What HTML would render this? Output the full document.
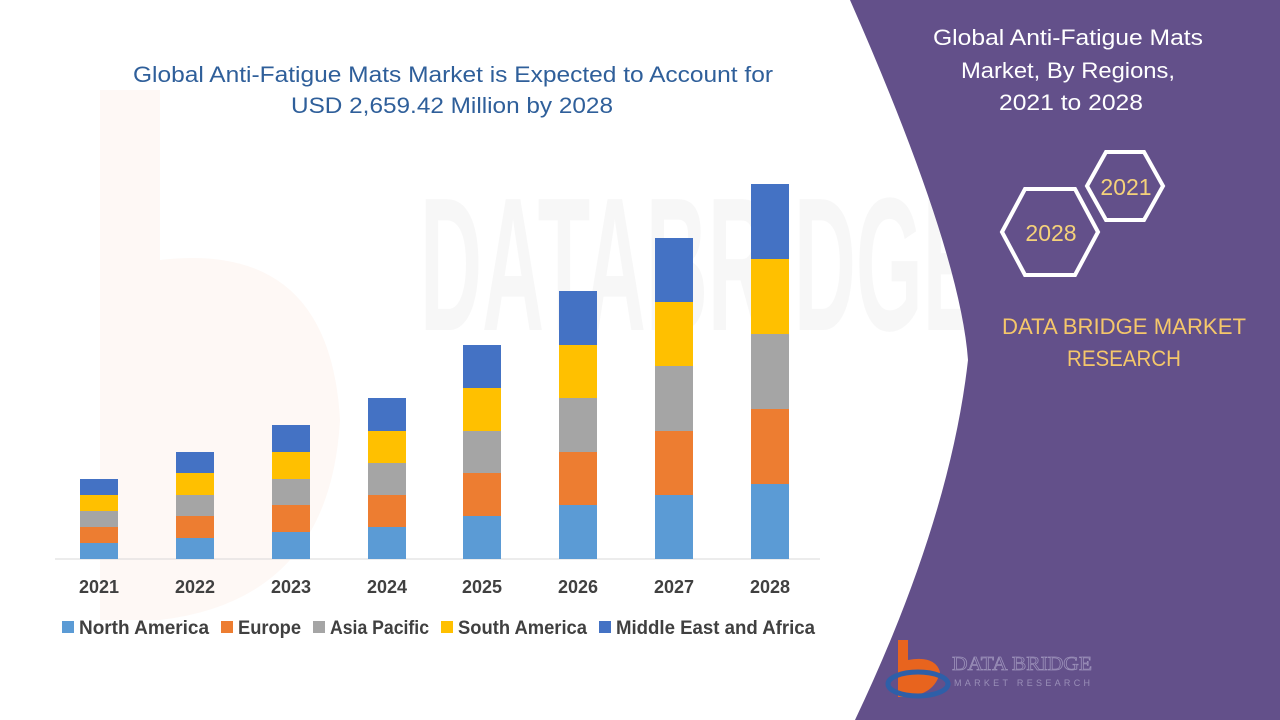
<!DOCTYPE html>
<html><head><meta charset="utf-8"><style>
html,body{margin:0;padding:0;background:#fff}
svg{display:block}
</style></head><body>
<svg width="1280" height="720" viewBox="0 0 1280 720" xmlns="http://www.w3.org/2000/svg" font-family="'Liberation Sans', sans-serif">
<rect width="1280" height="720" fill="#fff"/>
<g opacity="0.045">
<path d="M100 90 L160 90 L160 260 Q330 240 340 420 Q330 600 160 620 L100 620 Z" fill="#e8641e"/>
<text x="420" y="330" font-size="190" fill="#555" font-weight="bold" textLength="560" lengthAdjust="spacingAndGlyphs">DATABRIDGE</text>
</g>
<path d="M850 0 L1280 0 L1280 720 L855 720 Q950 520 968 360 Q960 250 850 0 Z" fill="#63508a"/>
<text x="453" y="82" font-size="22" fill="#2f5f9a" text-anchor="middle" textLength="640" lengthAdjust="spacingAndGlyphs">Global Anti-Fatigue Mats Market is Expected to Account for</text>
<text x="452" y="113" font-size="22" fill="#2f5f9a" text-anchor="middle" textLength="322" lengthAdjust="spacingAndGlyphs">USD 2,659.42 Million by 2028</text>
<line x1="55" y1="559" x2="820" y2="559" stroke="#d9d9d9" stroke-width="1"/>
<g font-family="'Liberation Sans Narrow','Liberation Sans',sans-serif" font-weight="bold" font-size="18" fill="#404040" text-anchor="middle">
<text x="99" y="593">2021</text><text x="195" y="593">2022</text><text x="291" y="593">2023</text><text x="387" y="593">2024</text>
<text x="482" y="593">2025</text><text x="578" y="593">2026</text><text x="674" y="593">2027</text><text x="770" y="593">2028</text>
</g>
<g font-family="'Liberation Sans Narrow','Liberation Sans',sans-serif" font-weight="bold" font-size="19" fill="#404040">
<rect x="62" y="621" width="12" height="12" fill="#5b9bd5"/><text x="79" y="634" textLength="130" lengthAdjust="spacingAndGlyphs">North America</text>
<rect x="221" y="621" width="12" height="12" fill="#ed7d31"/><text x="238" y="634" textLength="63" lengthAdjust="spacingAndGlyphs">Europe</text>
<rect x="313" y="621" width="12" height="12" fill="#a5a5a5"/><text x="330" y="634" textLength="99" lengthAdjust="spacingAndGlyphs">Asia Pacific</text>
<rect x="441" y="621" width="12" height="12" fill="#ffc000"/><text x="458" y="634" textLength="129" lengthAdjust="spacingAndGlyphs">South America</text>
<rect x="599" y="621" width="12" height="12" fill="#4472c4"/><text x="616" y="634" textLength="199" lengthAdjust="spacingAndGlyphs">Middle East and Africa</text>
</g>
<g>
<rect x="80" y="543" width="38" height="16" fill="#5b9bd5"/><rect x="80" y="527" width="38" height="16" fill="#ed7d31"/><rect x="80" y="511" width="38" height="16" fill="#a5a5a5"/><rect x="80" y="495" width="38" height="16" fill="#ffc000"/><rect x="80" y="479" width="38" height="16" fill="#4472c4"/>
<rect x="176" y="538" width="38" height="21" fill="#5b9bd5"/><rect x="176" y="516" width="38" height="22" fill="#ed7d31"/><rect x="176" y="495" width="38" height="21" fill="#a5a5a5"/><rect x="176" y="473" width="38" height="22" fill="#ffc000"/><rect x="176" y="452" width="38" height="21" fill="#4472c4"/>
<rect x="272" y="532" width="38" height="27" fill="#5b9bd5"/><rect x="272" y="505" width="38" height="27" fill="#ed7d31"/><rect x="272" y="479" width="38" height="26" fill="#a5a5a5"/><rect x="272" y="452" width="38" height="27" fill="#ffc000"/><rect x="272" y="425" width="38" height="27" fill="#4472c4"/>
<rect x="368" y="527" width="38" height="32" fill="#5b9bd5"/><rect x="368" y="495" width="38" height="32" fill="#ed7d31"/><rect x="368" y="463" width="38" height="32" fill="#a5a5a5"/><rect x="368" y="431" width="38" height="32" fill="#ffc000"/><rect x="368" y="398" width="38" height="33" fill="#4472c4"/>
<rect x="463" y="516" width="38" height="43" fill="#5b9bd5"/><rect x="463" y="473" width="38" height="43" fill="#ed7d31"/><rect x="463" y="431" width="38" height="42" fill="#a5a5a5"/><rect x="463" y="388" width="38" height="43" fill="#ffc000"/><rect x="463" y="345" width="38" height="43" fill="#4472c4"/>
<rect x="559" y="505" width="38" height="54" fill="#5b9bd5"/><rect x="559" y="452" width="38" height="53" fill="#ed7d31"/><rect x="559" y="398" width="38" height="54" fill="#a5a5a5"/><rect x="559" y="345" width="38" height="53" fill="#ffc000"/><rect x="559" y="291" width="38" height="54" fill="#4472c4"/>
<rect x="655" y="495" width="38" height="64" fill="#5b9bd5"/><rect x="655" y="431" width="38" height="64" fill="#ed7d31"/><rect x="655" y="366" width="38" height="65" fill="#a5a5a5"/><rect x="655" y="302" width="38" height="64" fill="#ffc000"/><rect x="655" y="238" width="38" height="64" fill="#4472c4"/>
<rect x="751" y="484" width="38" height="75" fill="#5b9bd5"/><rect x="751" y="409" width="38" height="75" fill="#ed7d31"/><rect x="751" y="334" width="38" height="75" fill="#a5a5a5"/><rect x="751" y="259" width="38" height="75" fill="#ffc000"/><rect x="751" y="184" width="38" height="75" fill="#4472c4"/>
</g>
<g fill="#fff" font-size="22" text-anchor="middle">
<text x="1068" y="45" textLength="270" lengthAdjust="spacingAndGlyphs">Global Anti-Fatigue Mats</text>
<text x="1068" y="78" textLength="214" lengthAdjust="spacingAndGlyphs">Market, By Regions,</text>
<text x="1071" y="110" textLength="144" lengthAdjust="spacingAndGlyphs">2021 to 2028</text>
</g>
<polygon points="1087,186 1106,152 1144,152 1163,186 1144,220 1106,220" fill="none" stroke="#fff" stroke-width="4"/>
<polygon points="1002,232 1025,189 1075,189 1098,232 1075,275 1025,275" fill="none" stroke="#fff" stroke-width="4"/>
<text x="1126" y="195" font-size="23" fill="#f5d27a" text-anchor="middle">2021</text>
<text x="1051" y="241" font-size="23" fill="#f5d27a" text-anchor="middle">2028</text>
<text x="1124" y="334" font-size="22" fill="#f5c76a" text-anchor="middle" textLength="244" lengthAdjust="spacingAndGlyphs">DATA BRIDGE MARKET</text>
<text x="1124" y="366" font-size="22" fill="#f5c76a" text-anchor="middle" textLength="114" lengthAdjust="spacingAndGlyphs">RESEARCH</text>
<path d="M898 640 L908 640 L908 660 Q935 655 940 672 Q935 695 905 697 L898 697 Z" fill="#e8641e"/>
<ellipse cx="918" cy="684" rx="30" ry="12" fill="none" stroke="#2e5fa8" stroke-width="5"/>
<text x="952" y="670" font-size="20" fill="none" stroke="#9a8fb8" stroke-width="0.8" font-family="'Liberation Serif',serif" textLength="140" lengthAdjust="spacingAndGlyphs">DATA BRIDGE</text>
<text x="954" y="686" font-size="9" fill="#9a8fb8" textLength="136" lengthAdjust="spacing">MARKET RESEARCH</text>
</svg>
</body></html>
